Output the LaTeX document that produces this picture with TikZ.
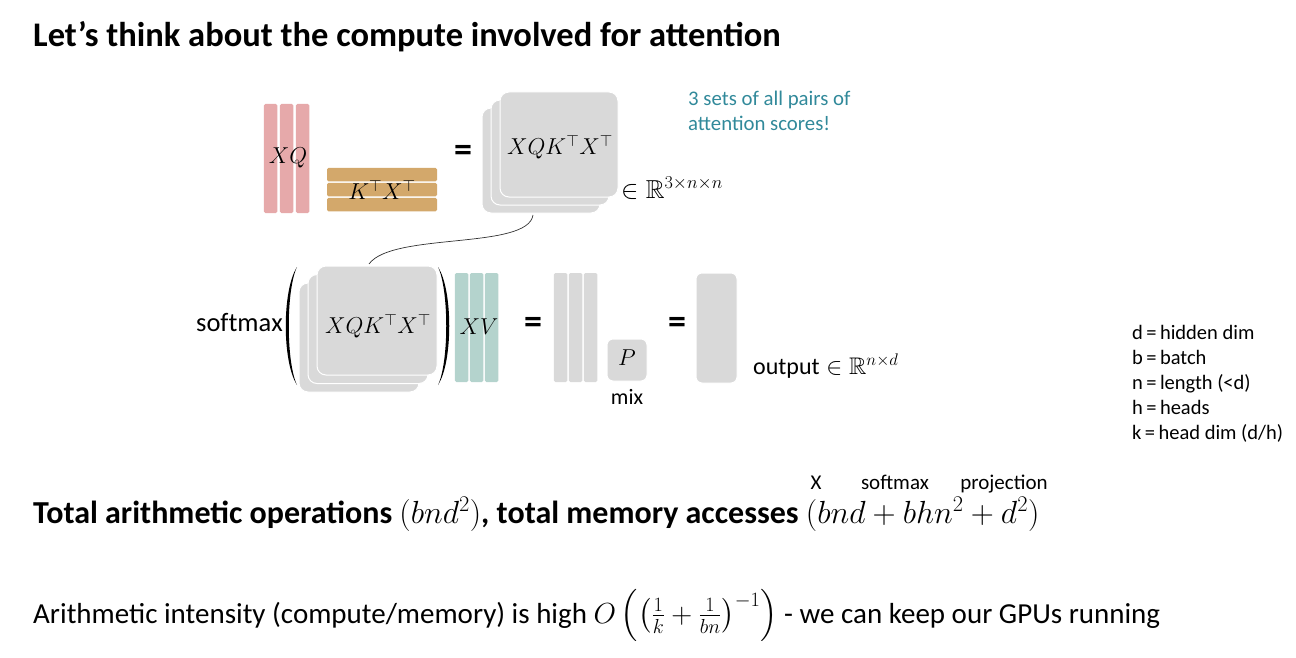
\RequirePackage{fix-cm}
\documentclass[tikz,border=0pt]{standalone}
\usepackage{amssymb}
\usepackage{fontspec}
\setmainfont{Carlito}
\definecolor{pinkc}{HTML}{E6A9AA}
\definecolor{tanc}{HTML}{D3A86B}
\definecolor{grayc}{HTML}{D9D9D9}
\definecolor{tealbar}{HTML}{B4D3CD}
\definecolor{tealtxt}{HTML}{31899A}
\tikzset{
  vbar/.style={draw=none, rounded corners=1.5pt, minimum width=13.5pt, inner sep=0pt},
  hbar/.style={draw=none, rounded corners=1.5pt, minimum height=13.5pt, minimum width=110pt, inner sep=0pt, fill=tanc},
  sq/.style={fill=grayc, draw=white, line width=1pt, rounded corners=9pt, inner sep=0pt},
  mlab/.style={font=\fontsize{23}{27}\selectfont, inner sep=0pt},
  eqsign/.style={font=\bfseries\fontsize{36}{40}\selectfont, inner sep=0pt},
  legend/.style={anchor=base west, font=\fontsize{20.5}{24}\selectfont, inner sep=0pt},
  small/.style={anchor=base, font=\fontsize{21}{24}\selectfont, inner sep=0pt},
}
\begin{document}
\begin{tikzpicture}[x=1pt,y=-1pt]
\useasboundingbox (0,0) rectangle (1296,658);
% title
\node[anchor=base west, inner sep=0pt, font=\bfseries\fontsize{34.5}{40}\selectfont] (title) at (33,47) {Let’s think about the compute involved for attention};

% XQ
\foreach \i/\x in {1/270.5,2/286.5,3/302.5}
  \node[vbar, fill=pinkc, minimum height=109pt] (q\i) at (\x,158.5) {};
\node[mlab] (xq) at (288,158) {$XQ$};
% K^T X^T
\foreach \i/\y in {1/174.7,2/189.7,3/204.7}
  \node[hbar] (k\i) at (382,\y) {};
\node[mlab] (ktxt) at (382,190) {$K^\top X^\top$};
\node[eqsign] (eq1) at (463,153) {=};

% top stack
\node[sq, minimum width=118pt, minimum height=105pt] (ts3) at (541,160.5) {};
\node[sq, minimum width=118pt, minimum height=105pt] (ts2) at (550,152.5) {};
\node[sq, minimum width=118pt, minimum height=105pt] (ts1) at (559,144.5) {};
\node[mlab] (tstxt) at (560,147) {$XQK^\top X^\top$};
\node[anchor=base west, inner sep=0pt, font=\fontsize{26}{30}\selectfont] (r1) at (621,198) {$\in\mathbb{R}^{3\times n\times n}$};
\node[anchor=base west, inner sep=0pt, align=left, text=tealtxt, font=\fontsize{20.8}{25}\selectfont] (note) at (688,131) {3 sets of all pairs of\\attention scores!};

% bottom row
\node[anchor=base east, inner sep=0pt, font=\fontsize{26.5}{30}\selectfont] (smx) at (283,331) {$\mathrm{softmax}$};
\node[sq, minimum width=120pt, minimum height=109pt] (bs3) at (359,337.5) {};
\node[sq, minimum width=120pt, minimum height=109pt] (bs2) at (368,329) {};
\node[sq, minimum width=120pt, minimum height=109pt] (bs1) at (377,320.5) {};
\node[mlab] (bstxt) at (378,326) {$XQK^\top X^\top$};
\fill (297,267) .. controls (282,290) and (282,362) .. (297,385) .. controls (286,362) and (286,290) .. (297,267);
\fill (438,267) .. controls (453,290) and (453,362) .. (438,385) .. controls (449,362) and (449,290) .. (438,267);

\coordinate (cs) at (533,215);
\coordinate (ce) at (369,264);
\draw[line width=0.7pt, black!80] (cs) .. controls (528,250) and (392,232) .. (ce);

\foreach \i/\x in {1/461.5,2/476.5,3/491.5}
  \node[vbar, fill=tealbar, minimum height=109pt] (v\i) at (\x,327.5) {};
\node[mlab] (xv) at (479,327) {$XV$};
\node[eqsign] (eq2) at (533,325) {=};
\foreach \i/\x in {1/560.5,2/575.5,3/590.5}
  \node[vbar, fill=grayc, minimum height=109pt] (g\i) at (\x,327.5) {};
\node[sq, rounded corners=6pt, minimum width=40pt, minimum height=42pt] (p) at (627,360) {};
\node[mlab] (ptxt) at (627,358) {$P$};
\node[anchor=base, inner sep=0pt, font=\fontsize{22}{26}\selectfont] (mix) at (627,404) {mix};
\node[eqsign] (eq3) at (677,325) {=};
\node[sq, rounded corners=6pt, minimum width=41pt, minimum height=110pt] (out) at (716.5,328) {};
\node[anchor=base west, inner sep=0pt, font=\fontsize{24}{28}\selectfont] (outtxt) at (753,374) {$\mathrm{output}\in\mathbb{R}^{n\times d}$};

% legend
\node[legend] (l1) at (1132,339) {d\,=\,hidden dim};
\node[legend] (l2) at (1132,364) {b\,=\,batch};
\node[legend] (l3) at (1132,389) {n\,=\,length (<d)};
\node[legend] (l4) at (1132,414) {h\,=\,heads};
\node[legend] (l5) at (1132,439) {k\,=\,head dim (d/h)};

% small labels
\node[small] (sx) at (816,489) {X};
\node[small] (ssm) at (895,489) {softmax};
\node[small] (spr) at (1004,489) {projection};

% bold line
\node[anchor=base west, inner sep=0pt, font=\bfseries\fontsize{32}{37}\selectfont] (tot) at (33,523) {Total arithmetic operations $(bnd^2)$, total memory accesses $(bnd + bhn^2 + d^2)$};

% last line
\node[anchor=base west, inner sep=0pt, font=\fontsize{29}{34}\selectfont] (ai) at (33,623) {Arithmetic intensity (compute/memory) is high $O\left(\left(\frac{1}{k}+\frac{1}{bn}\right)^{-1}\right)$ - we can keep our GPUs running};
\end{tikzpicture}
\end{document}
